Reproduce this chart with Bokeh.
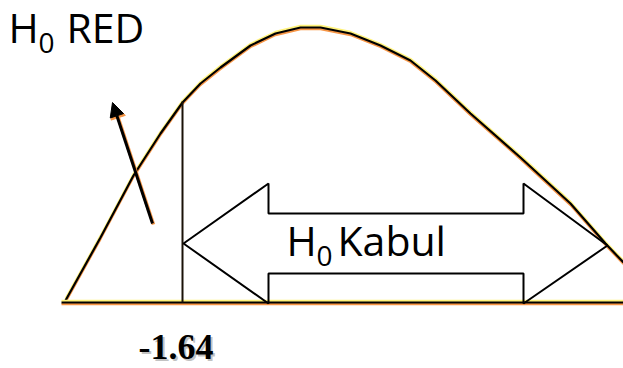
from bokeh.plotting import figure
from bokeh.models import Range1d, Arrow, NormalHead
from bokeh.core.properties import value
from bokeh.embed import file_html
from bokeh.resources import INLINE

# ---- diagram data (picture units: x grows right, y grows down) ----
curve_x = [65, 100, 133, 160, 182, 200, 220, 250, 275, 300, 320, 350, 380, 410, 435, 470, 520, 570, 605, 623]
curve_y = [300, 237, 175, 133, 102, 83, 67, 45, 33, 27, 27, 33, 45, 60, 80, 113, 157, 203, 243, 262]
axis_x = [61, 630]
axis_y = [302, 302]
critical_x = [182, 182]
critical_y = [101, 302]
accept_x = [183, 268, 268, 523, 523, 607, 523, 523, 268, 268]
accept_y = [243, 183, 213, 213, 183, 245, 303, 273, 273, 303]
reject_arrow = [152, 223, 112, 102]
critical_label = "-1.64"
reject_label = ["H", "0", "RED"]
accept_label = ["H", "0", "Kabul"]

YELLOW = "#FFF27A"
ORANGE = "#F79646"

p = figure(width=623, height=368, x_range=Range1d(0, 623), y_range=Range1d(368, 0),
           toolbar_location=None, output_backend="svg", min_border=0,
           x_axis_type=None, y_axis_type=None, outline_line_color=None)
p.grid.visible = False
p.background_fill_color = "white"
p.border_fill_color = "white"

def glow_line(xs, ys, w=2.2):
    p.line(xs, [y - 1.6 for y in ys], line_color=YELLOW, line_width=2.2)
    p.line(xs, [y + 1.6 for y in ys], line_color=ORANGE, line_width=2.2)
    p.line(xs, ys, line_color="black", line_width=w)

glow_line(curve_x, curve_y)
glow_line(axis_x, axis_y)
p.line(critical_x, critical_y, line_color="#1a1208", line_width=2)

# accept-region double arrow
p.patch(accept_x, accept_y, fill_color=None, line_color="black", line_width=2)

# rejection arrow with orange shadow
xs, ys, xe, ye = reject_arrow
p.add_layout(Arrow(x_start=xs + 1, y_start=ys + 1, x_end=xe + 1, y_end=ye + 1,
                   line_color=ORANGE, line_width=3.5,
                   end=NormalHead(size=15, fill_color=ORANGE, line_color=ORANGE)))
p.add_layout(Arrow(x_start=xs, y_start=ys, x_end=xe, y_end=ye,
                   line_color="black", line_width=3,
                   end=NormalHead(size=14, fill_color="black", line_color="black")))

font = value("Open Sans")
def label(parts, x, y, sub_dx, word_dx, size=41):
    p.text([x], [y], text=[parts[0]], text_font=font, text_font_size=f"{size}px",
           text_baseline="middle", text_color="black")
    p.text([x + sub_dx], [y + 16], text=[parts[1]], text_font=font, text_font_size="28px",
           text_baseline="middle", text_color="black")
    p.text([x + word_dx], [y], text=[parts[2]], text_font=font, text_font_size=f"{size}px",
           text_baseline="middle", text_color="black")

label(reject_label, 8, 26, 30, 58)
label(accept_label, 286, 239, 30, 51)

# critical value label with soft shadow
serif = value("Liberation Serif")
p.text([140], [348], text=[critical_label], text_font=serif, text_font_size="36px",
       text_font_style="bold", text_color="#999999", text_alpha=0.6, text_baseline="middle")
p.text([138], [346.5], text=[critical_label], text_font=serif, text_font_size="36px",
       text_font_style="bold", text_color="black", text_baseline="middle")

open("out.html", "w").write(file_html(p, INLINE))
